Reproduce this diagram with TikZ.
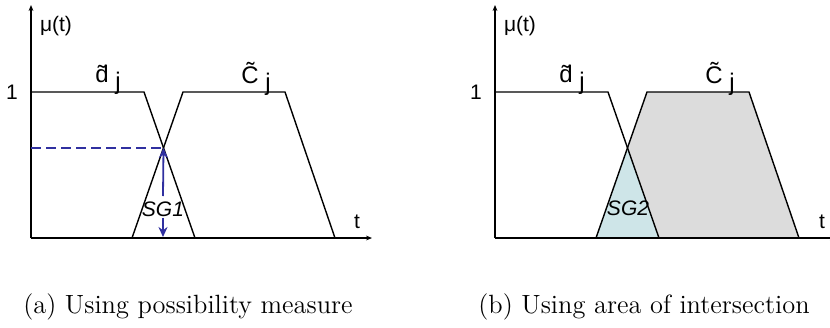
\documentclass[tikz,border=0pt]{standalone}
\usepackage{fontspec}
\newfontfamily\labelfont{Liberation Sans}
\definecolor{sgblue}{RGB}{48,48,160}
\definecolor{sgteal}{RGB}{206,229,232}
\definecolor{sggray}{RGB}{220,220,220}
\usetikzlibrary{arrows.meta,positioning}

\begin{document}
\begin{tikzpicture}[x=0.5pt,y=-0.5pt,line join=miter,
    axis/.style={line width=0.6pt,-{Stealth[length=3pt,width=2.4pt]}},
    curve/.style={line width=0.7pt},
    lbl/.style={font=\labelfont\fontsize{10.5}{12}\selectfont,inner sep=0pt},
    fzlbl/.style={font=\labelfont\fontsize{12}{14}\selectfont,inner sep=0pt,anchor=base west},
    sglbl/.style={font=\labelfont\itshape\fontsize{10.5}{12}\selectfont,inner sep=0.5pt},
    sgarrow/.style={sgblue,line width=0.9pt,-{Stealth[length=5pt,width=4.5pt]}},
    caption/.style={font=\fontsize{13.2}{16}\selectfont,inner sep=0pt}]
  \useasboundingbox (0,0) rectangle (830,327);

  % (a) possibility measure
  \coordinate (oa) at (31,238);
  \coordinate (cut1) at (163.5,148);
  \draw[axis] (oa) -- (31,5);
  \draw[axis] (oa) -- (372,238);
  \draw[curve] (31,92) -- (144,92) -- (195,238);
  \draw[curve] (132,238) -- (183,92) -- (285,92) -- (335,238);
  \draw[sgblue,line width=0.7pt,dash pattern=on 5pt off 2.5pt] (31,148) -- (cut1);
  \node[lbl] (mua) at (56,26) {μ(t)};
  \node[lbl] (onea) at (12,92) {1};
  \node[lbl] (ta) at (357,222) {t};
  \node[fzlbl] (da) at (95,82) {\~{d}\raisebox{-0.6ex}{\ j}};
  \node[fzlbl] (ca) at (241,83) {\~{C}\raisebox{-0.6ex}{\ j}};
  \node[sglbl] (sg1) at (163,209) {SG1};
  \coordinate (stem1) at (163,196);
  \coordinate (foot1) at (163,237);
  \draw[sgarrow] (stem1) -- (cut1);
  \draw[sgarrow] (sg1.south) -- (foot1);
  \node[caption] (capa) at (188,307) {(a) Using possibility measure};

  % (b) area of intersection
  \begin{scope}[shift={(464,0)}]
    \coordinate (ob) at (31,238);
    \coordinate (cut2) at (163.5,148);
    \fill[sggray] (132,238) -- (183,92) -- (285,92) -- (335,238) -- cycle;
    \fill[sgteal] (132,238) -- (cut2) -- (195,238) -- cycle;
    \draw[axis] (ob) -- (31,5);
    \draw[axis] (ob) -- (372,238);
    \draw[curve] (31,92) -- (144,92) -- (195,238);
    \draw[curve] (132,238) -- (183,92) -- (285,92) -- (335,238);
    \node[lbl] (mub) at (56,26) {μ(t)};
    \node[lbl] (oneb) at (12,92) {1};
    \node[lbl] (tb) at (358,222) {t};
    \node[fzlbl] (db) at (95,82) {\~{d}\raisebox{-0.6ex}{\ j}};
    \node[fzlbl] (cb) at (241,83) {\~{C}\raisebox{-0.6ex}{\ j}};
    \node[sglbl] (sg2) at (164,208) {SG2};
    \node[caption] (capb) at (180,307) {(b) Using area of intersection};
  \end{scope}
\end{tikzpicture}
\end{document}
